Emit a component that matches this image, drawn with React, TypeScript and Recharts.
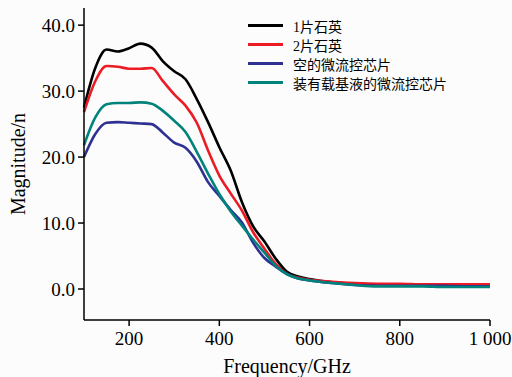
import { LineChart, Line, XAxis, YAxis } from 'recharts';

// frequency samples (GHz)
const freqs = [100, 125, 150, 175, 200, 225, 250, 275, 300, 325, 350, 375, 400, 425, 450, 475, 500, 525, 550, 575, 600, 650, 700, 750, 800, 850, 900, 950, 1000];

const quartz1 = [27.5, 33.5, 36.3, 36.0, 36.5, 37.2, 36.6, 34.5, 33.0, 31.8, 28.8, 25.3, 21.5, 18.0, 13.2, 9.5, 7.2, 4.6, 2.6, 1.9, 1.5, 1.0, 0.8, 0.7, 0.7, 0.6, 0.6, 0.6, 0.6];
const quartz2 = [26.8, 31.5, 33.8, 33.7, 33.4, 33.4, 33.5, 31.5, 29.5, 27.8, 25.2, 21.0, 17.2, 14.5, 11.9, 8.6, 6.1, 3.8, 2.3, 1.7, 1.4, 1.1, 0.9, 0.8, 0.8, 0.7, 0.7, 0.7, 0.7];
const emptyChip = [20.0, 23.5, 25.2, 25.3, 25.2, 25.1, 25.0, 23.7, 22.2, 21.4, 19.3, 16.2, 14.1, 12.0, 10.1, 7.0, 4.7, 3.4, 2.3, 1.6, 1.3, 0.9, 0.6, 0.5, 0.5, 0.5, 0.5, 0.4, 0.4];
const liquidChip = [21.8, 26.0, 28.0, 28.2, 28.2, 28.3, 28.1, 27.0, 25.5, 23.8, 20.8, 17.5, 14.4, 11.8, 9.6, 7.5, 5.5, 3.5, 2.2, 1.6, 1.3, 0.9, 0.6, 0.4, 0.4, 0.4, 0.3, 0.3, 0.3];

const xTicks = [200, 400, 600, 800, 1000];
const yTicks = [0, 10, 20, 30, 40];

const series = [
    { key: 'q1', name: '1片石英', color: '#000000' },
    { key: 'q2', name: '2片石英', color: '#ec1c24' },
    { key: 'empty', name: '空的微流控芯片', color: '#2e3192' },
    { key: 'liquid', name: '装有载基液的微流控芯片', color: '#00837b' },
];

const data = freqs.map((f, i) => ({
    f,
    q1: quartz1[i],
    q2: quartz2[i],
    empty: emptyChip[i],
    liquid: liquidChip[i],
}));

const FONT = "'Liberation Serif', 'Noto Sans CJK SC', serif";

function LegendBox() {
    return (
        <div style={{ position: 'absolute', left: 248, top: 16, fontFamily: FONT, fontSize: 14, color: '#000' }}>
            {series.map(s => (
                <div key={s.key} style={{ display: 'flex', alignItems: 'center', height: 19 }}>
                    <span style={{ display: 'inline-block', width: 35, height: 3, background: s.color, marginRight: 10 }} />
                    <span>{s.name}</span>
                </div>
            ))}
        </div>
    );
}

export default function App() {
    return (
        <div style={{ position: 'absolute', left: 0, top: 0, width: 512, height: 377, background: '#fcfcfc' }}>
            <LineChart width={512} height={377} data={data} margin={{ top: 8, right: 22, bottom: 27, left: 0 }}>
                <XAxis
                    dataKey="f"
                    type="number"
                    domain={[100, 1000]}
                    ticks={xTicks}
                    tickFormatter={v => (v === 1000 ? '1 000' : String(v))}
                    height={30}
                    stroke="#000"
                    strokeWidth={1.5}
                    tickSize={6}
                    tickMargin={6}
                    tick={{ fill: '#000', fontSize: 19, fontFamily: FONT }}
                    label={{ value: 'Frequency/GHz', position: 'insideBottom', offset: -23, fill: '#000', fontSize: 20, fontFamily: FONT }}
                />
                <YAxis
                    type="number"
                    domain={[-4.7, 42.6]}
                    allowDataOverflow
                    ticks={yTicks}
                    tickFormatter={v => v.toFixed(1)}
                    width={84}
                    stroke="#000"
                    strokeWidth={1.5}
                    tickSize={6}
                    tickMargin={3}
                    tick={{ fill: '#000', fontSize: 19, fontFamily: FONT }}
                    label={{ value: 'Magnitude/n', angle: -90, position: 'insideLeft', offset: 18, fill: '#000', fontSize: 20, fontFamily: FONT, style: { textAnchor: 'middle' } }}
                />
                {series.map(s => (
                    <Line
                        key={s.key}
                        type="monotone"
                        dataKey={s.key}
                        name={s.name}
                        stroke={s.color}
                        strokeWidth={2.6}
                        dot={false}
                        isAnimationActive={false}
                    />
                ))}
            </LineChart>
            <LegendBox />
        </div>
    );
}
